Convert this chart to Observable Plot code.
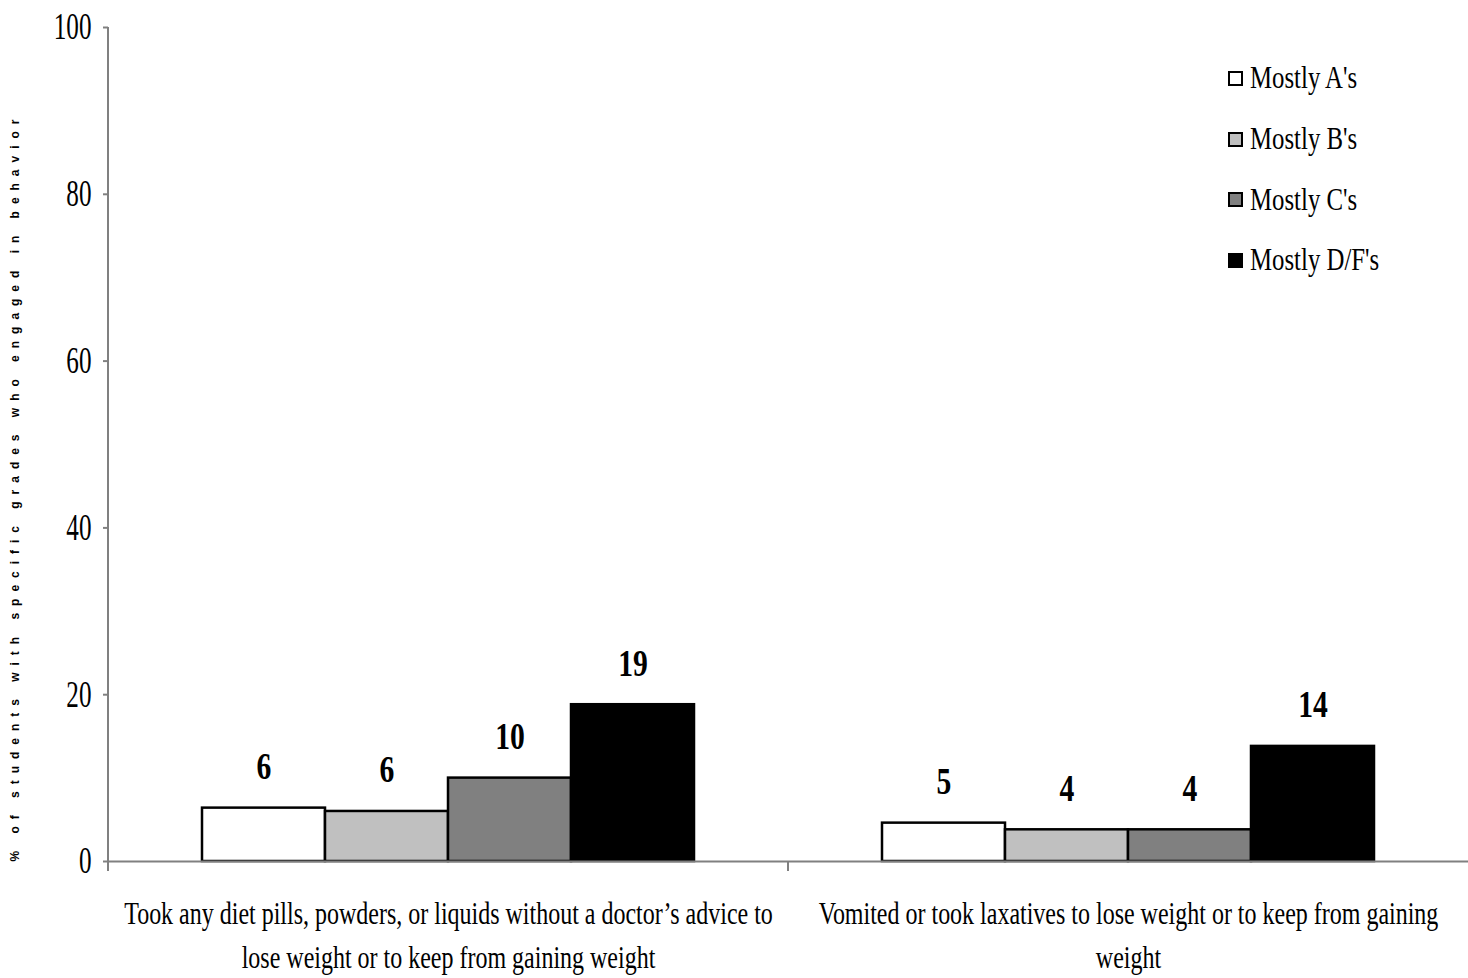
<!DOCTYPE html>
<html>
<head>
<meta charset="utf-8">
<script src="https://cdn.jsdelivr.net/npm/d3@7"></script>
<script src="https://cdn.jsdelivr.net/npm/@observablehq/plot@0.6"></script>
<style>
  html, body { margin: 0; padding: 0; background: #fff; }
  #wrap { position: relative; width: 1468px; height: 978px; overflow: hidden; }
  #legend { position: absolute; left: 1228px; top: 48px; font-family: "Liberation Serif", serif; font-size: 31px; color: #000; }
  #legend .item { display: flex; align-items: center; height: 60.7px; white-space: nowrap; }
  #legend .swatch { width: 11px; height: 11px; border: 2px solid #000; margin-right: 7px; flex: none; }
  #legend .label { display: inline-block; transform: scaleX(0.8); transform-origin: left center; }
</style>
</head>
<body>
<div id="wrap">
  <div id="chart"></div>
  <div id="legend"></div>
</div>
<script>
// Behaviours (facets) and grade groups (bars inside each facet)
const categories = [
  "Took any diet pills, powders, or liquids without a doctor’s advice to lose weight or to keep from gaining weight",
  "Vomited or took laxatives to lose weight or to keep from gaining weight"
];
const categoryLines = [
  ["Took any diet pills, powders, or liquids without a doctor’s advice to", "lose weight or to keep from gaining weight"],
  ["Vomited or took laxatives to lose weight or to keep from gaining", "weight"]
];
const grades = ["Mostly A's", "Mostly B's", "Mostly C's", "Mostly D/F's"];
const gradeColors = ["#ffffff", "#c0c0c0", "#808080", "#000000"];

// Percent of students in each grade group who engaged in the behaviour
const dietPills = [6.4, 6.0, 10.0, 18.8];
const vomitedLaxatives = [4.6, 3.8, 3.8, 13.8];

const yTicks = [0, 20, 40, 60, 80, 100];
const yLabel = "% of students with specific grades who engaged in behavior";

const series = [dietPills, vomitedLaxatives];
const rows = categories.flatMap((category, ci) =>
  grades.map((grade, gi) => ({category, grade, value: series[ci][gi]}))
);

const fmt = d3.format(".0f");
const serif = "'Liberation Serif', 'Times New Roman', serif";

const chart = Plot.plot({
  width: 1468,
  height: 978,
  marginLeft: 108,
  marginRight: 0,
  marginTop: 27,
  marginBottom: 117,
  style: {fontFamily: serif, background: "#fff", overflow: "visible", color: "#000"},
  fx: {domain: categories, padding: 0, axis: null},
  x: {domain: grades, paddingInner: 0, paddingOuter: 0.75, axis: null},
  y: {domain: [0, 100], axis: null},
  color: {domain: grades, range: gradeColors},
  marks: [
    Plot.barY(rows, {fx: "category", x: "grade", y: "value", fill: "grade", stroke: "#000", strokeWidth: 2.5}),
    Plot.ruleY([0], {stroke: "#808080", strokeWidth: 2}),
    Plot.text(rows, {
      fx: "category", x: "grade", y: "value",
      text: (d) => fmt(d.value),
      lineAnchor: "bottom", dy: -29,
      fontSize: 38, fontWeight: "bold", fontFamily: serif, fill: "#000"
    }),
    Plot.axisY({
      ticks: yTicks, tickSize: 5, tickPadding: 12,
      stroke: "#808080", strokeWidth: 2, fill: "#000",
      fontSize: 37, fontFamily: serif, tickFormat: d3.format("d"), label: null
    }),
    Plot.axisFx({
      anchor: "bottom", tickSize: 0, tickPadding: 31,
      fontSize: 32, fontFamily: serif, lineHeight: 1.375, fill: "#000",
      tickFormat: (d) => categoryLines[categories.indexOf(d)].join("\n"),
      label: null
    }),
    Plot.text([categories[0]], {
      fx: (d) => d, frameAnchor: "bottom-left", text: () => yLabel,
      rotate: -90, dx: -90, textAnchor: "start",
      fontFamily: "'Liberation Sans', Arial, sans-serif", fontSize: 12, fontWeight: "bold", fill: "#000"
    })
  ]
});

document.getElementById("chart").appendChild(chart);

// Narrow serif lettering: squeeze each label horizontally about its own anchor point
function squeeze(node, s) {
  const bb = node.getBBox();
  const anchor = getComputedStyle(node).textAnchor;
  const ax = anchor === "end" ? bb.x + bb.width : anchor === "middle" ? bb.x + bb.width / 2 : bb.x;
  const tr = node.getAttribute("transform") || "";
  node.setAttribute("transform", `${tr} translate(${ax},0) scale(${s},1) translate(${-ax},0)`);
}
d3.select(chart).selectAll("text").each(function () {
  const owner = this.closest("g[aria-label]");
  const role = owner ? owner.getAttribute("aria-label") : "";
  if (this.textContent === yLabel) {
    this.setAttribute("textLength", 742);
    this.setAttribute("lengthAdjust", "spacing");
  } else if (role.includes("y-axis")) {
    squeeze(this, 0.68);
  } else if (role.includes("fx-axis")) {
    squeeze(this, 0.75);
  } else {
    squeeze(this, 0.78);
  }
});

// Vertical axis line and the short category separators below the baseline
const fxScale = chart.scale("fx");
const yScale = chart.scale("y");
const y0 = yScale.apply(0), yTop = yScale.apply(100);
const g = d3.select(chart).append("g").attr("stroke", "#808080").attr("stroke-width", 2);
g.append("line")
  .attr("x1", fxScale.apply(categories[0])).attr("x2", fxScale.apply(categories[0]))
  .attr("y1", yTop).attr("y2", y0 + 10);
categories.slice(1).forEach((c) => {
  const x = fxScale.apply(c);
  g.append("line").attr("x1", x).attr("x2", x).attr("y1", y0).attr("y2", y0 + 10);
});

// Legend
const legend = d3.select("#legend");
grades.forEach((grade, i) => {
  const item = legend.append("div").attr("class", "item");
  item.append("span").attr("class", "swatch").style("background", gradeColors[i]);
  item.append("span").attr("class", "label").text(grade);
});
</script>
</body>
</html>
